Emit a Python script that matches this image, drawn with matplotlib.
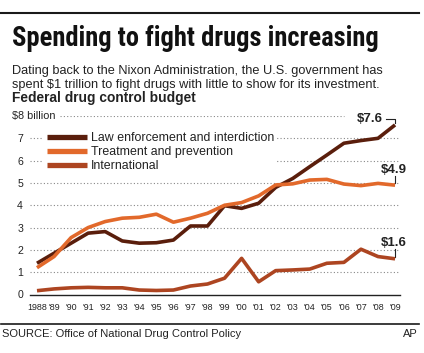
import matplotlib
matplotlib.use("Agg")
import matplotlib.pyplot as plt
from matplotlib.lines import Line2D
from matplotlib import font_manager

# data, billions of dollars
years = list(range(1988, 2010))
year_labels = ["1988"] + ["'%02d" % (y % 100) for y in years[1:]]
law = [1.4, 1.85, 2.3, 2.75, 2.82, 2.4, 2.3, 2.32, 2.44, 3.07, 3.07,
       3.98, 3.86, 4.09, 4.8, 5.2, 5.73, 6.25, 6.78, 6.9, 7.0, 7.6]
treatment = [1.2, 1.7, 2.55, 3.0, 3.27, 3.42, 3.46, 3.6, 3.24, 3.42, 3.64,
             4.0, 4.12, 4.42, 4.91, 4.96, 5.13, 5.16, 4.95, 4.88, 4.98, 4.9]
international = [0.17, 0.25, 0.3, 0.32, 0.3, 0.3, 0.2, 0.18, 0.2, 0.38, 0.47,
                 0.73, 1.62, 0.57, 1.07, 1.1, 1.14, 1.4, 1.44, 2.03, 1.7, 1.6]
series_names = ["Law enforcement and interdiction", "Treatment and prevention", "International"]
series_colors = ["#5a1e0c", "#e2692b", "#ad4521"]
end_labels = ["$7.6", "$4.9", "$1.6"]

W, H = 424, 353
fig = plt.figure(figsize=(W / 100, H / 100), dpi=100)
plt.rcParams['font.family'] = ['Liberation Sans', 'DejaVu Sans']

installed = {f.name for f in font_manager.fontManager.ttflist}
narrow = "Liberation Sans Narrow" if "Liberation Sans Narrow" in installed else "Liberation Sans"
condensed = "DejaVu Sans"
for cand in ["Liberation Sans Narrow", "Roboto Condensed", "Open Sans Condensed", "DejaVu Sans"]:
    if cand in installed:
        condensed = cand
        break


def fx(px):
    return px / W


def fy(py):
    return 1 - py / H


def fit_width(txt, target_px):
    """shrink/grow the font so the text spans target_px"""
    r = fig.canvas.get_renderer()
    w = txt.get_window_extent(renderer=r).width
    txt.set_fontsize(txt.get_fontsize() * target_px / w)


# axes placed so that 0 -> y 294.5 px, 8 -> y 116 px
ax = fig.add_axes([fx(30), fy(294.5), fx(400) - fx(30), fy(116) - fy(294.5)])
ax.set_xlim(1987.59, 2009.29)
ax.set_ylim(0, 8)
for side in ["left", "right", "top"]:
    ax.spines[side].set_visible(False)
ax.spines["bottom"].set_color("#222222")
ax.spines["bottom"].set_linewidth(1.0)

# dotted grid
for v in range(1, 8):
    ax.axhline(v, color="#888888", lw=0.8, ls=(0, (1, 2)), zorder=0)
ax.hlines(8, 1989.35, 2006.0, color="#888888", lw=0.8, ls=(0, (1, 2)), zorder=0)

ax.set_yticks(range(0, 9))
ax.set_yticklabels([str(v) for v in range(0, 8)] + [""])
ax.set_xticks(years)
ax.set_xticklabels(year_labels, family=narrow)
ax.tick_params(axis="both", length=0, labelsize=7.6, colors="#222222")
ax.tick_params(axis="y", pad=5)
ax.tick_params(axis="x", pad=6)
if narrow == "Liberation Sans":
    for t in ax.get_xticklabels():
        t.set_fontsize(6.4)
fig.text(fx(12), fy(116), "$8 billion", fontsize=7.8, va="center", ha="left", color="#222222")

handles = []
for vals, name, col in zip([law, treatment, international], series_names, series_colors):
    ax.plot(years, vals, color=col, lw=2.6, solid_capstyle="butt", zorder=3)
    handles.append(Line2D([0], [0], color=col, lw=3.8, solid_capstyle="butt"))

leg = ax.legend(handles, series_names, loc="upper left", bbox_to_anchor=(0.035, 0.93),
                frameon=True, fontsize=8.9, handlelength=3.25, handletextpad=0.3,
                labelspacing=0.16, borderpad=0.3, borderaxespad=0)
leg.get_frame().set_facecolor("white")
leg.get_frame().set_edgecolor("none")
leg.get_frame().set_alpha(1)
leg.set_zorder(2)
for t in leg.get_texts():
    t.set_color("#222222")

# end value callouts
last_x = years[-1]
ax.plot([last_x, last_x, 2008.45], [law[-1] + 0.08, 7.87, 7.87], color="#222222", lw=0.8)
ax.text(2008.3, 7.85, end_labels[0], ha="right", va="center", fontsize=9.5,
        fontweight="bold", color="#222222")
ax.plot([last_x, last_x], [treatment[-1] + 0.1, 5.33], color="#222222", lw=0.8)
ax.text(last_x - 0.05, 5.33, end_labels[1], ha="center", va="bottom", fontsize=9.5,
        fontweight="bold", color="#222222")
ax.plot([last_x, last_x], [international[-1] + 0.1, 2.06], color="#222222", lw=0.8)
ax.text(last_x - 0.05, 2.06, end_labels[2], ha="center", va="bottom", fontsize=9.5,
        fontweight="bold", color="#222222")

# header and footer
fig.add_artist(Line2D([fx(1), fx(419)], [fy(13), fy(13)], color="#1a1a1a", lw=1.5))
fig.add_artist(Line2D([fx(1), fx(419)], [fy(324), fy(324)], color="#1a1a1a", lw=1.2))

title = fig.text(fx(12), fy(46), "Spending to fight drugs increasing", fontsize=17.5,
                 fontweight="bold", family=condensed,
                 ha="left", va="baseline", color="#111111")
fit_width(title, 366)
sub1 = fig.text(fx(12), fy(74), "Dating back to the Nixon Administration, the U.S. government has",
                fontsize=9.6, ha="left", va="baseline", color="#222222")
fit_width(sub1, 372)
sub2 = fig.text(fx(12), fy(88), "spent $1 trillion to fight drugs with little to show for its investment.",
                fontsize=sub1.get_fontsize(), ha="left", va="baseline", color="#222222")
fed = fig.text(fx(12), fy(102), "Federal drug control budget", fontsize=9.6, fontweight="bold",
               ha="left", va="baseline", color="#222222")
fit_width(fed, 183)
fig.text(fx(2), fy(334), "SOURCE: Office of National Drug Control Policy", fontsize=8,
         ha="left", va="center", color="#222222")
fig.text(fx(418), fy(334), "AP", fontsize=8, ha="right", va="center", color="#222222")

fig.savefig("out.png", dpi=100, facecolor="white")
